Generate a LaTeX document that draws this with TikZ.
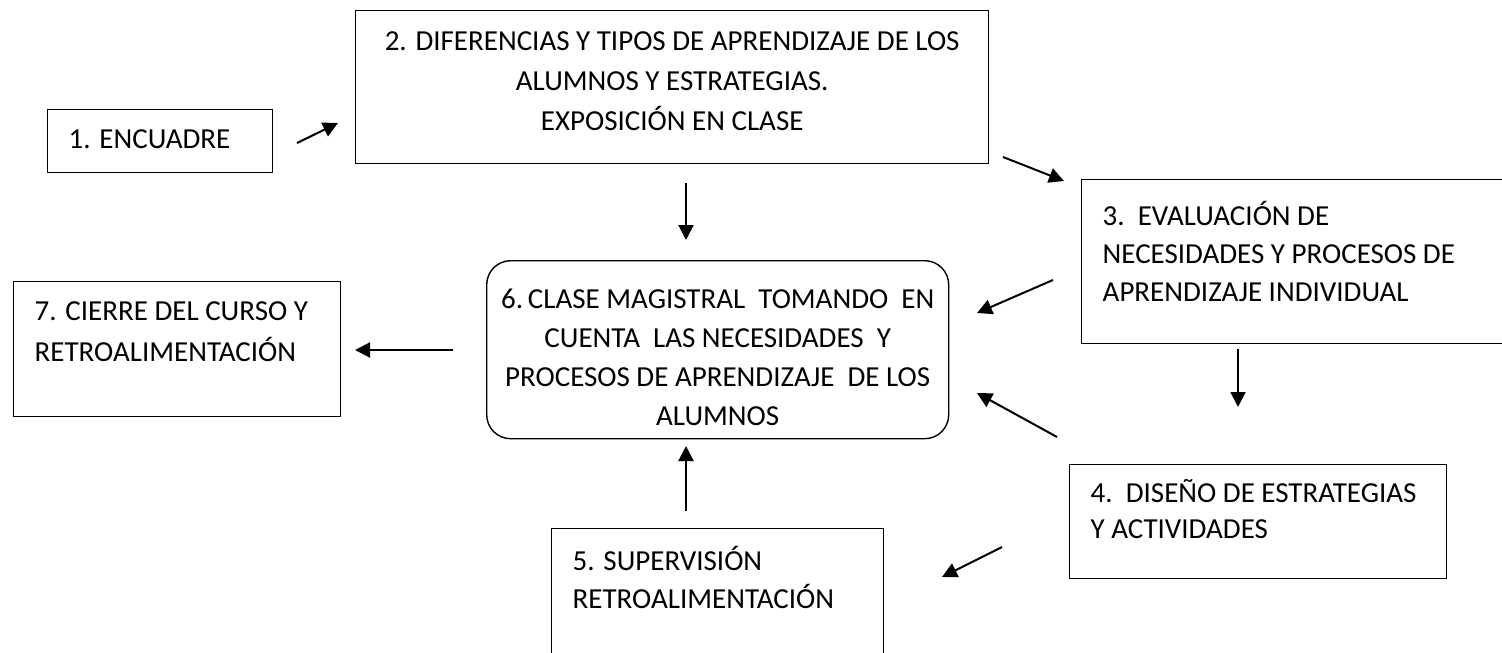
\documentclass[tikz,border=0pt]{standalone}
\usepackage{fontspec}
\setmainfont{Carlito}
\usetikzlibrary{arrows.meta}
\newcommand{\boxtxt}[5]{\begin{minipage}[t][#2][t]{#1}#4\rule{0pt}{#3}\ignorespaces#5\end{minipage}}
\tikzset{
  box/.style={draw, line width=1.4pt, inner sep=0pt, anchor=north west},
  rbox/.style={box, rounded corners=24pt},
  arr/.style={line width=2pt, -{Triangle[length=15pt,width=15pt]}},
}
\begin{document}
\begin{tikzpicture}[x=1pt,y=-1pt]
\useasboundingbox (0,0) rectangle (1502,653);
\clip (0,0) rectangle (1502,653);
% boxes
\node[box] (b1) at (47,109) {\boxtxt{225pt}{63pt}{39pt}{\fontsize{29}{39}\selectfont\raggedright\leftskip=21pt}{1. ENCUADRE}};
\node[box] (b2) at (355,10) {\boxtxt{633pt}{153pt}{40pt}{\fontsize{29}{40}\selectfont\centering}{2. DIFERENCIAS Y TIPOS DE APRENDIZAJE DE LOS\\ALUMNOS Y ESTRATEGIAS.\\EXPOSICIÓN EN CLASE}};
\node[box] (b3) at (1081,179) {\boxtxt{440pt}{164pt}{46pt}{\fontsize{29}{38}\selectfont\raggedright\leftskip=21pt}{3.\ \ EVALUACIÓN DE\\NECESIDADES Y PROCESOS DE\\APRENDIZAJE INDIVIDUAL}};
\node[rbox] (b6) at (486,260) {\boxtxt{462pt}{178pt}{48pt}{\fontsize{29}{39}\selectfont\centering}{6.\,CLASE MAGISTRAL\ \ TOMANDO\ \ EN\\CUENTA\ \ LAS NECESIDADES\ \ Y\\PROCESOS DE APRENDIZAJE\ \ DE LOS\\ALUMNOS}};
\node[box] (b7) at (13,281) {\boxtxt{327pt}{135pt}{39pt}{\fontsize{29}{41}\selectfont\raggedright\leftskip=21pt}{7. CIERRE DEL CURSO Y\\RETROALIMENTACIÓN}};
\node[box] (b4) at (1069,464) {\boxtxt{377pt}{114pt}{38pt}{\fontsize{29}{36}\selectfont\raggedright\leftskip=21pt}{4.\ \ DISEÑO DE ESTRATEGIAS\\Y ACTIVIDADES}};
\node[box] (b5) at (551,528) {\boxtxt{332pt}{145pt}{42pt}{\fontsize{29}{38}\selectfont\raggedright\leftskip=21pt}{5. SUPERVISIÓN\\RETROALIMENTACIÓN}};
% arrow end points
\coordinate (a12s) at (297,143); \coordinate (a12e) at (338,123);
\coordinate (a23s) at (1003,157); \coordinate (a23e) at (1064,181);
\coordinate (a26s) at (686,183); \coordinate (a26e) at (686,240);
\coordinate (a36s) at (1053,280); \coordinate (a36e) at (977,313);
\coordinate (a34s) at (1238,349); \coordinate (a34e) at (1238,407);
\coordinate (a46s) at (1057,437); \coordinate (a46e) at (977,393);
\coordinate (a45s) at (1002,547); \coordinate (a45e) at (942,577);
\coordinate (a56s) at (686,511); \coordinate (a56e) at (686,446);
\coordinate (a67s) at (453,350); \coordinate (a67e) at (355,350);
\draw[arr] (a12s) -- (a12e);
\draw[arr] (a23s) -- (a23e);
\draw[arr] (a26s) -- (a26e);
\draw[arr] (a36s) -- (a36e);
\draw[arr] (a34s) -- (a34e);
\draw[arr] (a46s) -- (a46e);
\draw[arr] (a45s) -- (a45e);
\draw[arr] (a56s) -- (a56e);
\draw[arr] (a67s) -- (a67e);
\end{tikzpicture}
\end{document}
